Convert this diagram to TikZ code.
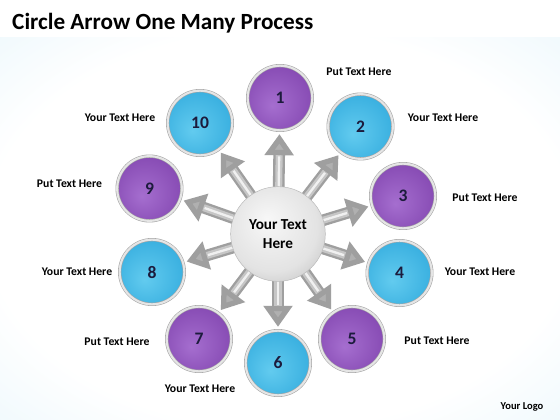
\documentclass[tikz,border=0pt]{standalone}
\usepackage{fontspec}
\setmainfont{Carlito}
\usetikzlibrary{arrows.meta}

\definecolor{bgblue}{HTML}{DCF1FA}
\definecolor{purpleL}{HTML}{A56ECF}
\definecolor{purpleM}{HTML}{8549B2}
\definecolor{purpleD}{HTML}{55267B}
\definecolor{blueL}{HTML}{62CBEF}
\definecolor{blueM}{HTML}{37AEDF}
\definecolor{blueD}{HTML}{1B78A8}
\definecolor{numtext}{HTML}{1C1B3C}

\pgfdeclareradialshading{bgshade}{\pgfpoint{0bp}{0bp}}{color(0bp)=(white); color(26bp)=(white); color(50bp)=(bgblue); color(80bp)=(bgblue)}
\pgfdeclareradialshading{purpleshade}{\pgfpoint{-6bp}{-6bp}}{color(0bp)=(purpleL); color(30bp)=(purpleM); color(50bp)=(purpleD)}
\pgfdeclareradialshading{blueshade}{\pgfpoint{-6bp}{-6bp}}{color(0bp)=(blueL); color(30bp)=(blueM); color(50bp)=(blueD)}
\pgfdeclareradialshading{silvershade}{\pgfpoint{-6bp}{8bp}}{color(0bp)=(white!94!gray); color(24bp)=(white!78!gray); color(50bp)=(gray!78)}

\pgfdeclarelayer{back}
\pgfdeclarelayer{arrows}
\pgfsetlayers{back,arrows,main}

\begin{document}
\begin{tikzpicture}[x=0.03cm, y=0.03cm,
    ball/.style={circle, minimum size=1.94cm, inner sep=0pt, draw=gray!70, line width=0.5pt,
                 double=white!80!gray, double distance=1.8pt,
                 text=numtext, font=\bfseries\fontsize{15}{18}\selectfont},
    pnode/.style={ball, shading=purpleshade},
    bnode/.style={ball, shading=blueshade},
    cnode/.style={circle, minimum size=2.84cm, inner sep=0pt, shading=silvershade, draw=gray!55, line width=0.4pt,
                  align=center, font=\bfseries\fontsize{13}{16}\selectfont},
    lbl/.style={inner sep=0pt, font=\bfseries\fontsize{10}{12}\selectfont},
    shaft/.style={draw=gray!75, line width=10pt, shorten >=3pt, shorten <=-4pt,
                  -{Triangle[width=24pt,length=18pt,fill=gray!62]}},
    shaftmid/.style={draw=gray!45, line width=6pt, shorten >=21pt, shorten <=-4pt},
    shine/.style={draw=white!88!gray, line width=2pt, shorten >=22pt, shorten <=-4pt}]
    \useasboundingbox (0,0) rectangle (560,420);

    % background
    \begin{pgfonlayer}{back}
    \fill[white] (0,0) rectangle (560,420);
    \shade[shading=bgshade] (0,0) rectangle (560,382);
    \end{pgfonlayer}

    \node[anchor=base west, inner sep=0pt, font=\bfseries\fontsize{19.8}{23}\selectfont] (title) at (12,390.7) {Circle Arrow One Many Process};

    \node[cnode] (cen) at (278,186) {Your Text\\Here};

    \node[pnode] (n1) at (280,322) {1};
    \node[bnode] (n2) at (360.5,293.5) {2};
    \node[pnode] (n3) at (403,224) {3};
    \node[bnode] (n4) at (399.5,147) {4};
    \node[pnode] (n5) at (352,81) {5};
    \node[bnode] (n6) at (278,57) {6};
    \node[pnode] (n7) at (199,81) {7};
    \node[bnode] (n8) at (152,148) {8};
    \node[pnode] (n9) at (149.5,231.5) {9};
    \node[bnode] (n10) at (200,297) {10};

    \node[lbl] (l1) at (359,348) {Put Text Here};
    \node[lbl] (l2) at (443,302) {Your Text Here};
    \node[lbl] (l3) at (485,222) {Put Text Here};
    \node[lbl] (l4) at (480,148) {Your Text Here};
    \node[lbl] (l5) at (437,79) {Put Text Here};
    \node[lbl] (l6) at (200,31) {Your Text Here};
    \node[lbl] (l7) at (117,78) {Put Text Here};
    \node[lbl] (l8) at (77,148) {Your Text Here};
    \node[lbl] (l9) at (69.5,236) {Put Text Here};
    \node[lbl] (l10) at (120,302) {Your Text Here};

    \node[anchor=base, inner sep=0pt, font=\bfseries\fontsize{9}{11}\selectfont] (logo) at (522,10) {Your Logo};

    % one to many arrows
    \begin{pgfonlayer}{arrows}
    \path[shaft] (cen) edge (n1) edge (n2) edge (n3) edge (n4) edge (n5)
                       edge (n6) edge (n7) edge (n8) edge (n9) edge (n10);
    \path[shaftmid] (cen) edge (n1) edge (n2) edge (n3) edge (n4) edge (n5)
                          edge (n6) edge (n7) edge (n8) edge (n9) edge (n10);
    \path[shine] (cen) edge (n1) edge (n2) edge (n3) edge (n4) edge (n5)
                       edge (n6) edge (n7) edge (n8) edge (n9) edge (n10);
    \end{pgfonlayer}
\end{tikzpicture}
\end{document}
